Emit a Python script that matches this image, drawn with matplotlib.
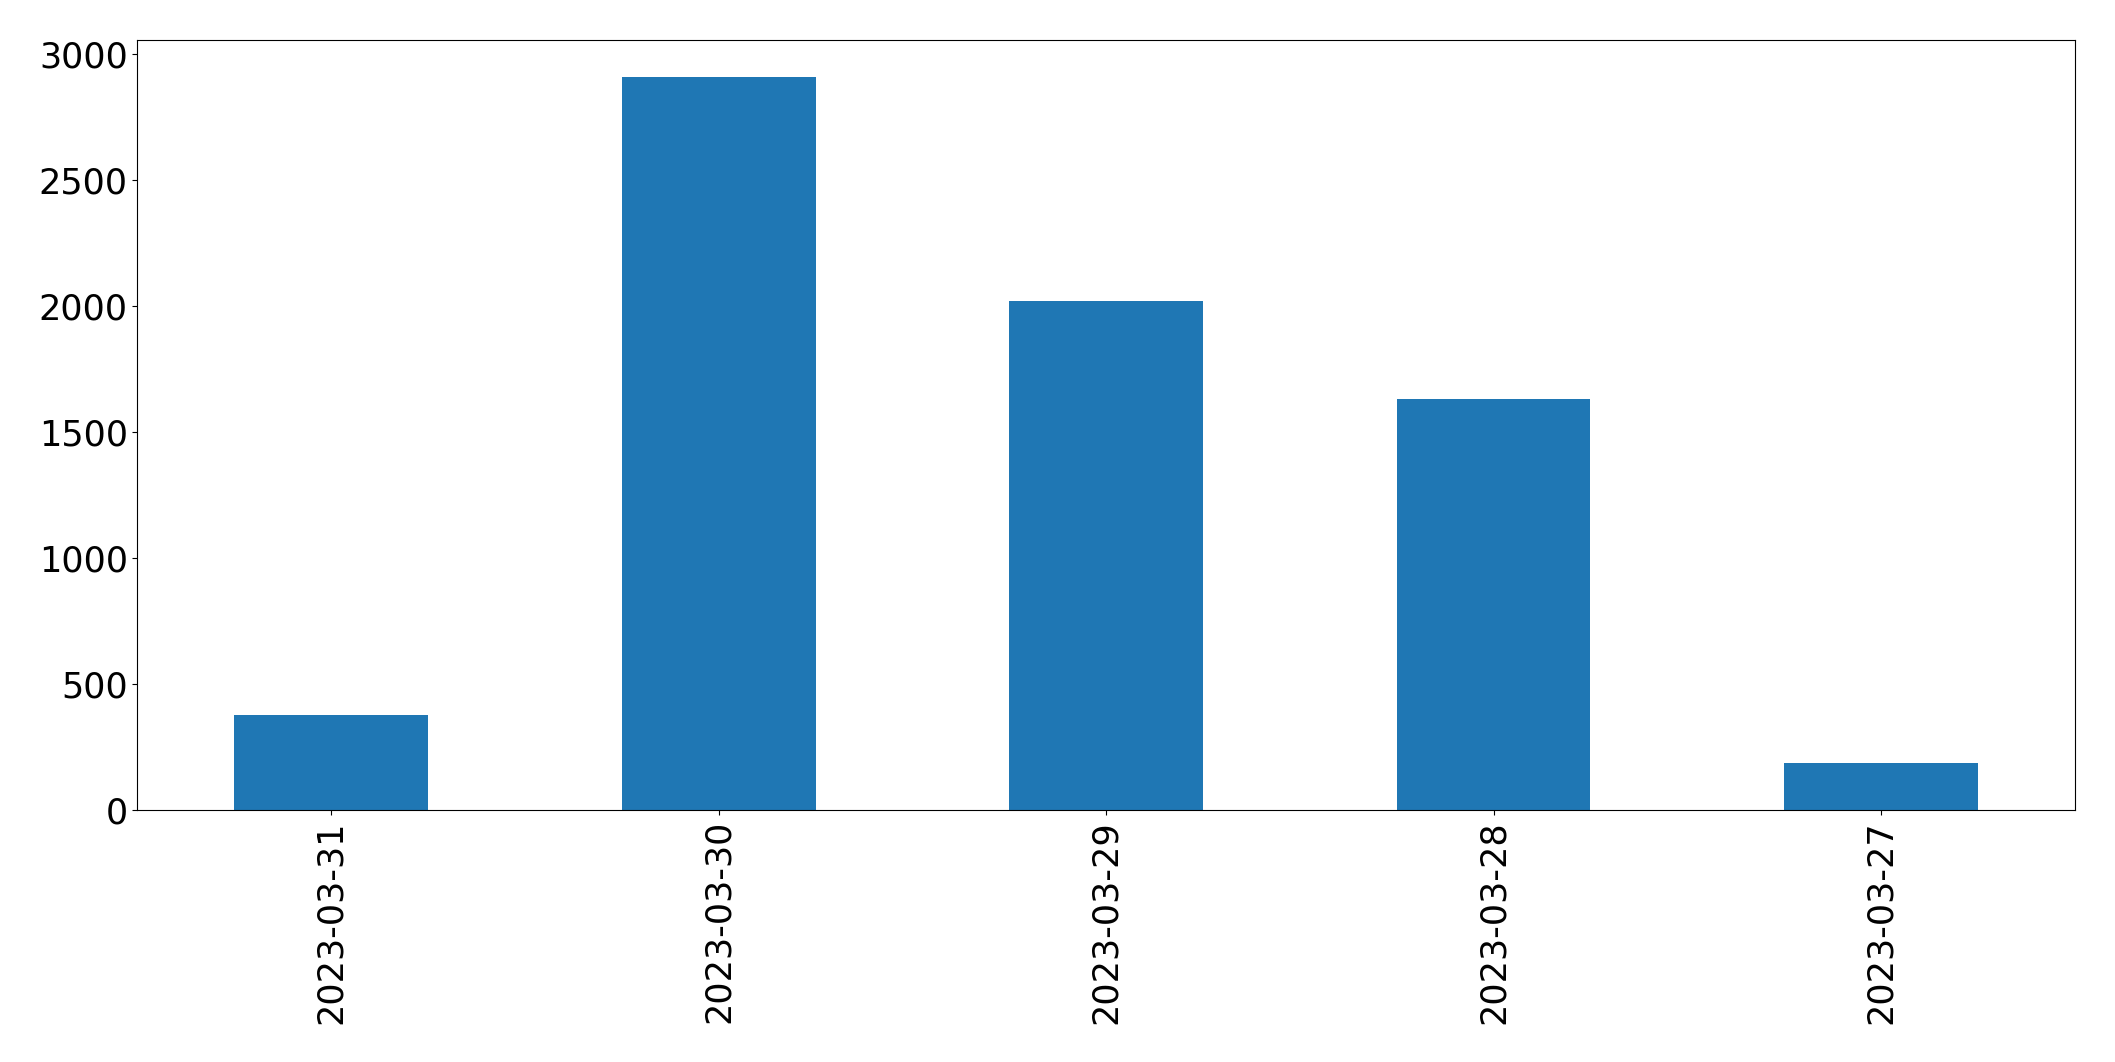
import matplotlib
matplotlib.use('Agg')
import matplotlib.pyplot as plt

dates = ['2023-03-31', '2023-03-30', '2023-03-29', '2023-03-28', '2023-03-27']
counts = [376, 2907, 2020, 1632, 186]

fig, ax = plt.subplots(figsize=(21.15, 10.62), dpi=100)
fig.subplots_adjust(left=0.065, right=0.981, top=0.962, bottom=0.237)

x = range(len(dates))
ax.bar(x, counts, width=0.5, color='#1f77b4')
ax.set_xlim(-0.5, len(dates) - 0.5)
ax.set_xticks(list(x))
ax.set_xticklabels(dates, rotation=90)
ax.tick_params(labelsize=25.2)

fig.savefig('out.png', dpi=100)
